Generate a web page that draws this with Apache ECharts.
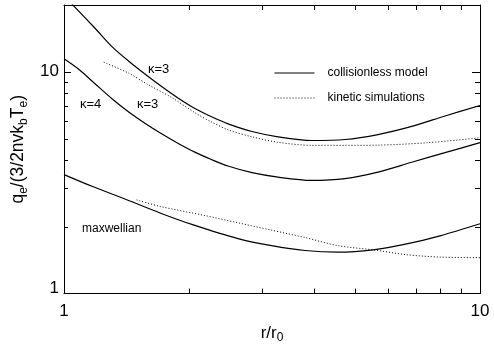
<!DOCTYPE html>
<html><head><meta charset="utf-8">
<script src="https://cdn.jsdelivr.net/npm/echarts@6/dist/echarts.min.js"></script>
<style>html,body{margin:0;padding:0;background:#fff}#c{width:494px;height:349px}</style>
</head><body><div id="c"></div>
<script>
// kappa = 3, collisionless model
const kappa3ModelR = [1.045,1.189,1.304,1.431,1.568,1.720,1.887,2.069,2.269,2.489,2.831,3.269,3.939,4.737,5.686,6.852,8.240,10.0];
const kappa3ModelQ = [20.2,15.67,12.99,11.16,9.75,8.56,7.58,6.81,6.25,5.81,5.38,5.09,4.90,4.95,5.21,5.67,6.32,7.05];
// kappa = 4, collisionless model
const kappa4ModelR = [1.0,1.085,1.189,1.304,1.431,1.568,1.720,1.887,2.069,2.269,2.489,2.831,3.269,3.939,4.737,5.686,6.852,8.240,10.0];
const kappa4ModelQ = [11.44,10.26,8.81,7.56,6.59,5.85,5.24,4.74,4.33,4.01,3.75,3.51,3.35,3.24,3.30,3.53,3.91,4.32,4.79];
// kappa = 3, kinetic simulations
const kappa3SimR = [1.246,1.431,1.598,1.818,2.066,2.269,2.489,2.831,3.269,3.939,4.737,5.686,7.499,10.0];
const kappa3SimQ = [11.05,9.85,8.72,7.64,6.53,5.92,5.46,5.09,4.81,4.66,4.66,4.67,4.79,5.04];
// maxwellian, collisionless model
const maxModelR = [1.0,1.176,1.415,1.701,2.046,2.620,3.157,3.796,4.557,5.533,6.665,8.015,10.0];
const maxModelQ = [3.44,3.03,2.65,2.31,2.04,1.77,1.645,1.564,1.537,1.575,1.675,1.822,2.065];
// maxwellian, kinetic simulations
const maxSimR = [1.495,1.701,2.183,2.620,3.157,3.796,4.557,5.533,6.665,8.015,10.0];
const maxSimQ = [2.646,2.472,2.248,2.085,1.931,1.790,1.645,1.575,1.497,1.461,1.452];

const xTickLabels = [1, 10];
const yTickLabels = [1, 10];
const xMinorTicks = [2,3,4,5,6,7,8,9];
const yMinorTicks = [2,3,4,5,6,7,8,9];
const yMajorTicks = [10];
const legendNames = ['collisionless model', 'kinetic simulations'];

const FONT = 'Liberation Sans';
const pairs = (r, q) => r.map((v, i) => [v, q[i]]);
const black = '#000';
const X_MIN = 1, X_MAX = 10, Y_MIN = 1, Y_MAX = 20;

function xAx(pos, withLabels) {
  return {
    type: 'log', logBase: 10, min: X_MIN, max: X_MAX, position: pos, gridIndex: 0,
    axisLine: { show: true, lineStyle: { color: black, width: 1 } },
    axisTick: { show: false },
    axisLabel: withLabels ? { show: true, customValues: xTickLabels, fontSize: 17, fontFamily: FONT, color: black, margin: 9 } : { show: false },
    splitLine: { show: false }, minorTick: { show: false }, minorSplitLine: { show: false }
  };
}
function yAx(pos, withLabels) {
  return {
    type: 'log', logBase: 10, min: Y_MIN, max: Y_MAX, position: pos, gridIndex: 0,
    axisLine: { show: true, lineStyle: { color: black, width: 1 } },
    axisTick: { show: false },
    axisLabel: withLabels ? {
      show: true, customValues: yTickLabels, fontSize: 17, fontFamily: FONT, color: black, margin: 5,
      formatter: v => (v < 5 ? '{lo|' + v + '}' : '{n|' + v + '}'),
      rich: { lo: { fontSize: 17, fontFamily: FONT, color: black, padding: [0, 0, 11, 0] },
              n: { fontSize: 17, fontFamily: FONT, color: black } }
    } : { show: false },
    splitLine: { show: false }, minorTick: { show: false }, minorSplitLine: { show: false }
  };
}

const xA0 = xAx('bottom', true);
xA0.name = '{n|r/r}{s|0}';
xA0.nameLocation = 'middle';
xA0.nameGap = 27;
xA0.nameTextStyle = { color: black, rich: {
  n: { fontSize: 17, fontFamily: FONT, color: black, lineHeight: 22, verticalAlign: 'middle' },
  s: { fontSize: 12, fontFamily: FONT, color: black, lineHeight: 12, verticalAlign: 'bottom' } } };

const yA0 = yAx('left', true);
yA0.name = '{n|q}{s|e}{n|/(3/2nvk}{s|b}{n|T}{s|e}{n|)}';
yA0.nameLocation = 'middle';
yA0.nameRotate = 90;
yA0.nameGap = 30;
yA0.nameTextStyle = { color: black, rich: {
  n: { fontSize: 17.5, fontFamily: FONT, color: black, lineHeight: 22, verticalAlign: 'middle' },
  s: { fontSize: 12, fontFamily: FONT, color: black, lineHeight: 12, verticalAlign: 'bottom' } } };

const solid = { color: black, width: 1.2, type: 'solid' };
const dotted = { color: black, width: 1, type: [1, 2] };
function ser(name, r, q, ls) {
  return { type: 'line', name: name, data: pairs(r, q), xAxisIndex: 0, yAxisIndex: 0,
    symbol: 'none', smooth: 0.3, lineStyle: ls, itemStyle: { color: black }, clip: true, silent: true };
}

// tick marks drawn through the axis scales (inward-pointing, IDL style)
function tickLine(x1, y1, x2, y2) {
  return { type: 'line', shape: { x1: x1, y1: y1, x2: x2, y2: y2 }, style: { stroke: black, lineWidth: 1 } };
}
const xTickSeries = {
  type: 'custom', name: 'xticks', silent: true, xAxisIndex: 0, yAxisIndex: 0, clip: false,
  data: xMinorTicks.map(v => [v, Y_MIN]),
  renderItem: function (params, api) {
    const v = api.value(0);
    const b = api.coord([v, Y_MIN]);
    const t = api.coord([v, Y_MAX]);
    const x = Math.round(b[0]) + 0.5;
    return { type: 'group', children: [tickLine(x, b[1], x, b[1] - 5), tickLine(x, t[1], x, t[1] + 5)] };
  }
};
function yTickSeries(values, lenL, lenR) {
  return {
    type: 'custom', name: 'yticks', silent: true, xAxisIndex: 0, yAxisIndex: 0, clip: false,
    data: values.map(v => [X_MIN, v]),
    renderItem: function (params, api) {
      const v = api.value(1);
      const l = api.coord([X_MIN, v]);
      const r = api.coord([X_MAX, v]);
      const y = Math.round(l[1]) + 0.5;
      return { type: 'group', children: [tickLine(l[0], y, l[0] + lenL, y), tickLine(r[0], y, r[0] - lenR, y)] };
    }
  };
}

const chart = echarts.init(document.getElementById('c'), null, { renderer: 'canvas' });
chart.setOption({
  animation: false,
  backgroundColor: '#fff',
  grid: { left: 64, right: 14, top: 5, bottom: 50, containLabel: false },
  xAxis: [xA0, xAx('top', false)],
  yAxis: [yA0, yAx('right', false)],
  legend: {
    data: legendNames, orient: 'vertical', left: 274, top: 66, padding: 0,
    itemWidth: 40, itemHeight: 14, itemGap: 11,
    itemStyle: { opacity: 0 },
    lineStyle: { width: 1 },
    textStyle: { fontSize: 12, fontFamily: FONT, color: black, padding: [0, 0, 0, 8], lineHeight: 14 },
    selectedMode: false
  },
  series: [
    ser(legendNames[0], kappa3ModelR, kappa3ModelQ, solid),
    ser(legendNames[0], kappa4ModelR, kappa4ModelQ, solid),
    ser(legendNames[0], maxModelR, maxModelQ, solid),
    ser(legendNames[1], kappa3SimR, kappa3SimQ, dotted),
    ser(legendNames[1], maxSimR, maxSimQ, dotted),
    xTickSeries,
    yTickSeries(yMinorTicks, 4, 5),
    yTickSeries(yMajorTicks, 7, 8)
  ],
  graphic: [
    { type: 'text', left: 148, top: 63, style: { text: 'κ=3', fontSize: 13, fontFamily: FONT, fill: black } },
    { type: 'text', left: 80, top: 98, style: { text: 'κ=4', fontSize: 13, fontFamily: FONT, fill: black } },
    { type: 'text', left: 137, top: 98, style: { text: 'κ=3', fontSize: 13, fontFamily: FONT, fill: black } },
    { type: 'text', left: 82, top: 223, style: { text: 'maxwellian', fontSize: 12, fontFamily: FONT, fill: black } }
  ]
});
</script></body></html>
